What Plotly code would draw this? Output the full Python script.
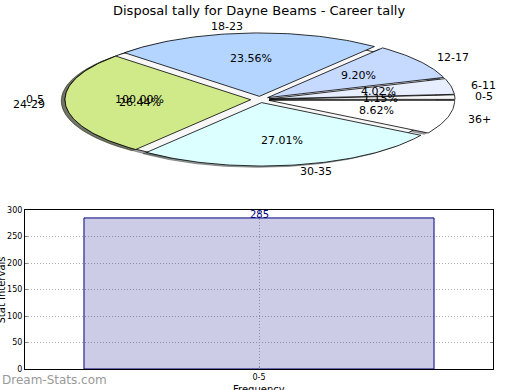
import numpy as np
import plotly.graph_objects as go

# ---------------- data ----------------
title_text = "Disposal tally for Dayne Beams - Career tally"
pie_labels = ["0-5", "6-11", "12-17", "18-23", "24-29", "30-35", "36+"]
pie_values = [2, 7, 16, 41, 46, 47, 15]
pie_colors = ["#f7f7f7", "#e6eeff", "#c6d9ff", "#b3d5ff", "#d0ea8a", "#dcffff", "#ffffff"]

bar_categories = ["0-5"]
bar_values = [285]
y_ticks = [0, 50, 100, 150, 200, 250, 300]

# ---------------- styling constants ----------------
EXPLODE = 0.05
LABEL_DIST = 1.1
PCT_DIST = 0.6
SHADOW = (-0.02, -0.02)
FONT = "DejaVu Sans"

fig = go.Figure()


def wedge_xy(t1, t2, dx, dy, full=False):
    n = max(int(abs(t2 - t1) / (2 * np.pi) * 360), 4)
    th = np.linspace(t1, t2, n)
    xs = dx + np.cos(th)
    ys = dy + np.sin(th)
    if not full:
        xs = np.concatenate([[dx], xs, [dx]])
        ys = np.concatenate([[dy], ys, [dy]])
    return xs, ys


def shade(hexcol):
    h = hexcol.lstrip("#")
    r, g, b = int(h[0:2], 16), int(h[2:4], 16), int(h[4:6], 16)
    return "rgba(%d,%d,%d,0.5)" % (r * 0.3, g * 0.3, b * 0.3)


def pie_geometry(values):
    tot = float(sum(values))
    fr = np.array(values, dtype=float) / tot
    ends = np.cumsum(fr) * 2 * np.pi
    starts = ends - fr * 2 * np.pi
    return fr, starts, ends


pies = [
    (bar_categories, bar_values, pie_colors[:1]),
    (pie_labels, pie_values, pie_colors),
]

annots = []
shadow_traces = []
wedge_traces = []
for labels, values, cols in pies:
    fr, starts, ends = pie_geometry(values)
    full = len(values) == 1
    for i, (lab, f, t1, t2) in enumerate(zip(labels, fr, starts, ends)):
        col = cols[i % len(cols)]
        mid = (t1 + t2) / 2
        dx, dy = EXPLODE * np.cos(mid), EXPLODE * np.sin(mid)
        xs, ys = wedge_xy(t1, t2, dx, dy, full)
        shadow_traces.append(go.Scatter(
            x=xs + SHADOW[0], y=ys + SHADOW[1], mode="lines", fill="toself",
            fillcolor=shade(col), line=dict(color=shade(col), width=1),
            xaxis="x2", yaxis="y2", hoverinfo="skip", showlegend=False))
        wedge_traces.append(go.Scatter(
            x=xs, y=ys, mode="lines", fill="toself", fillcolor=col,
            line=dict(color="black", width=0.8),
            xaxis="x2", yaxis="y2", hoverinfo="skip", showlegend=False))
        lx = dx + LABEL_DIST * np.cos(mid)
        ly = dy + LABEL_DIST * np.sin(mid)
        annots.append(dict(
            x=lx, y=ly, xref="x2", yref="y2", text=lab, showarrow=False,
            xanchor="left" if lx > 0 else "right", yanchor="middle",
            font=dict(family=FONT, size=11, color="black")))
        px = dx + PCT_DIST * np.cos(mid)
        py = dy + PCT_DIST * np.sin(mid)
        annots.append(dict(
            x=px, y=py, xref="x2", yref="y2", text="%.2f%%" % (f * 100),
            showarrow=False, xanchor="center", yanchor="middle",
            font=dict(family=FONT, size=11, color="black")))

for t in shadow_traces + wedge_traces:
    fig.add_trace(t)

# ---------------- bar chart ----------------
fig.add_trace(go.Bar(
    x=bar_categories, y=bar_values, width=0.748,
    marker=dict(color="rgba(0,0,128,0.2)", line=dict(color="#000080", width=1)),
    xaxis="x", yaxis="y", hoverinfo="skip", showlegend=False))

for c, v in zip(bar_categories, bar_values):
    annots.append(dict(
        x=c, y=v, xref="x", yref="y", text=str(v), showarrow=False,
        xanchor="center", yanchor="bottom", yshift=-4,
        font=dict(family=FONT, size=10, color="#000080")))

W, H = 520, 390
annots += [
    dict(x=259 / W, y=1 - 10 / H, xref="paper", yref="paper", text=title_text,
         showarrow=False, xanchor="center", yanchor="middle",
         font=dict(family=FONT, size=13, color="black")),
    dict(x=0.5 / W, y=1 - 290 / H, xref="paper", yref="paper", text="Stat Intervals",
         showarrow=False, textangle=-90, xanchor="center", yanchor="middle",
         font=dict(family=FONT, size=10, color="black")),
    dict(x=259 / W, y=1 - 389 / H, xref="paper", yref="paper", text="Frequency",
         showarrow=False, xanchor="center", yanchor="middle",
         font=dict(family=FONT, size=10, color="black")),
    dict(x=0, y=1 - 380 / H, xref="paper", yref="paper", text="Dream-Stats.com",
         showarrow=False, xanchor="left", yanchor="middle",
         font=dict(family=FONT, size=12, color="#999999")),
]

# pie axis mapping: centre (260, 99.5) px, radii 185.7 x 63.4 px
RX, RY, CX, CY = 185.7, 63.4, 260.0, 99.5
top_px = 195.0
grid_style = dict(showgrid=True, gridcolor="#b0b0b0", griddash="1px,2px", gridwidth=1)
fig.update_layout(
    width=W, height=H, autosize=False,
    margin=dict(l=0, r=0, t=0, b=0),
    paper_bgcolor="white", plot_bgcolor="rgba(0,0,0,0)",
    font=dict(family=FONT, size=9, color="black"),
    annotations=annots,
    xaxis2=dict(domain=[0, 1], range=[-CX / RX, (W - CX) / RX], visible=False,
                anchor="y2", fixedrange=True),
    yaxis2=dict(domain=[1 - top_px / H, 1], range=[-(top_px - CY) / RY, CY / RY],
                visible=False, anchor="x2", fixedrange=True),
    xaxis=dict(domain=[25 / W, 493 / W], range=[-0.5, 0.5], type="category",
               anchor="y", showline=True, linecolor="black", linewidth=1, mirror="ticks",
               ticks="inside", ticklen=3, tickcolor="#888",
               tickfont=dict(family=FONT, size=8), zeroline=False, automargin=False,
               **grid_style),
    yaxis=dict(domain=[(H - 369) / H, (H - 210) / H], range=[0, 300],
               tickvals=y_ticks, anchor="x", showline=True, linecolor="black",
               linewidth=1, mirror="ticks", ticks="inside", ticklen=3, tickcolor="#888",
               tickfont=dict(family=FONT, size=8), zeroline=False, automargin=False,
               **grid_style),
)

fig.write_html("out.html", config={"displayModeBar": False, "staticPlot": True},
               post_script="document.body.style.margin='0';document.body.style.padding='0';")
